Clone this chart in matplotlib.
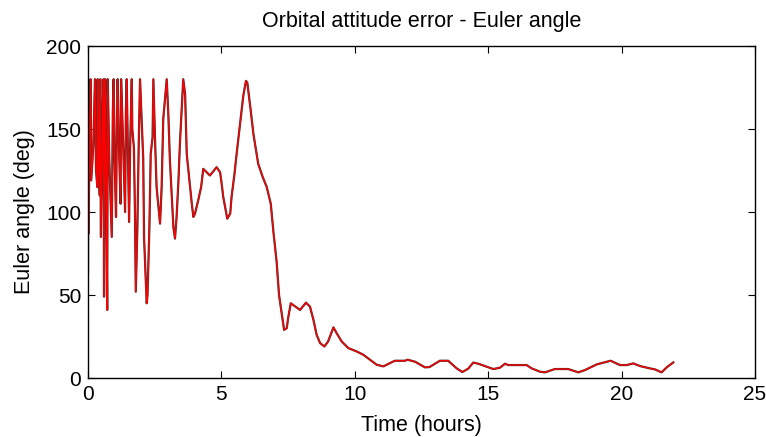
import numpy as np
import matplotlib
matplotlib.use('Agg')
import matplotlib.pyplot as plt

plt.rcParams['font.family'] = ['Liberation Sans', 'DejaVu Sans']

# time (hours) and euler angle (deg)
time_h = [
    0.00, 0.01, 0.02, 0.06, 0.10, 0.12, 0.20, 0.26, 0.30, 0.35, 0.36, 0.40, 0.44, 0.46,
    0.48, 0.55, 0.58, 0.60, 0.64, 0.68, 0.72, 0.74, 0.80, 0.89, 0.93, 0.96, 1.00, 1.05,
    1.08, 1.11, 1.16, 1.22, 1.24, 1.30, 1.39, 1.42, 1.45, 1.50, 1.54, 1.58, 1.64, 1.66,
    1.72, 1.76, 1.79, 1.85, 1.90, 1.95, 2.00, 2.07, 2.10, 2.20, 2.23, 2.30, 2.35, 2.42,
    2.45, 2.51, 2.57, 2.70, 2.76, 2.82, 2.95, 3.01, 3.07, 3.14, 3.20, 3.26, 3.32, 3.39,
    3.45, 3.51, 3.57, 3.64, 3.70, 3.80, 3.89, 3.95, 4.01, 4.13, 4.24, 4.32, 4.57, 4.82,
    4.95, 5.01, 5.07, 5.16, 5.22, 5.33, 5.38, 5.49, 5.57, 5.70, 5.82, 5.92, 5.97, 6.10,
    6.20, 6.38, 6.55, 6.70, 6.85, 6.95, 7.07, 7.16, 7.26, 7.35, 7.45, 7.50, 7.60, 7.95,
    8.17, 8.32, 8.45, 8.57, 8.70, 8.86, 9.00, 9.20, 9.32, 9.51, 9.76, 10.07, 10.32, 10.57,
    10.82, 11.07, 11.50, 11.88, 11.98, 12.26, 12.63, 12.80, 13.19, 13.50, 13.82, 14.03,
    14.25, 14.44, 14.63, 14.94, 15.19, 15.44, 15.63, 15.75, 16.44, 16.63, 16.94, 17.13,
    17.50, 18.00, 18.38, 18.63, 19.07, 19.44, 19.59, 19.94, 20.19, 20.44, 20.69, 21.06,
    21.25, 21.50, 21.69, 21.94,
]
euler_deg = [
    63, 180, 87, 150, 180, 119, 140, 180, 125, 115, 180, 130, 110, 180,
    85, 160, 180, 49, 180, 120, 41, 180, 130, 85, 160, 180, 130, 97,
    150, 180, 140, 105, 180, 150, 100, 160, 180, 130, 94, 140, 180, 150,
    139, 100, 52, 90, 140, 180, 160, 132, 85, 45, 50, 90, 135, 145,
    180, 145, 115, 93, 115, 156, 180, 159, 131, 109, 91, 84, 97, 119,
    143, 161, 180, 171, 135, 119, 105, 97, 99, 107, 115, 126, 122, 127,
    124, 117, 109, 101, 96, 99, 109, 123, 135, 153, 170, 179, 178, 161,
    147, 129, 121, 115, 105, 88, 70, 50, 39, 29, 30, 36, 45, 41,
    45.4, 43, 35, 26, 21, 19, 22, 30.5, 27, 22, 18, 16, 14, 11,
    8, 7, 10.4, 10.4, 11, 9.8, 6.4, 6.6, 10.4, 10.4, 5.8, 3.6,
    5.6, 9.3, 8.6, 6.8, 5.4, 6.2, 8.6, 7.8, 7.8, 5.8, 3.8, 3.4,
    5.4, 5.4, 3.4, 4.8, 8.2, 9.8, 10.4, 7.8, 7.8, 8.8, 7.2, 5.8,
    5.2, 3.4, 6.4, 9.4,
]

fig = plt.figure(figsize=(7.66, 4.37), dpi=100)
ax = fig.add_axes([0.1149, 0.135, 0.8707, 0.7597])

ax.plot(time_h, euler_deg, color='#3a3a3a', linewidth=1.6)
ax.plot(time_h, euler_deg, color='#ff0000', linewidth=1.0)

ax.set_xlim(0, 25)
ax.set_ylim(0, 200)
ax.set_xticks([0, 5, 10, 15, 20, 25])
ax.set_yticks([0, 50, 100, 150, 200])
ax.tick_params(direction='in', length=5, labelsize=15, top=True, right=True, pad=5)
for s in ax.spines.values():
    s.set_linewidth(1.0)

ax.set_title('Orbital attitude error - Euler angle', fontsize=15.5, pad=14)
ax.set_xlabel('Time (hours)', fontsize=15.5, labelpad=8)
ax.set_ylabel('Euler angle (deg)', fontsize=15.5, labelpad=8)

fig.savefig('out.png', dpi=100)
